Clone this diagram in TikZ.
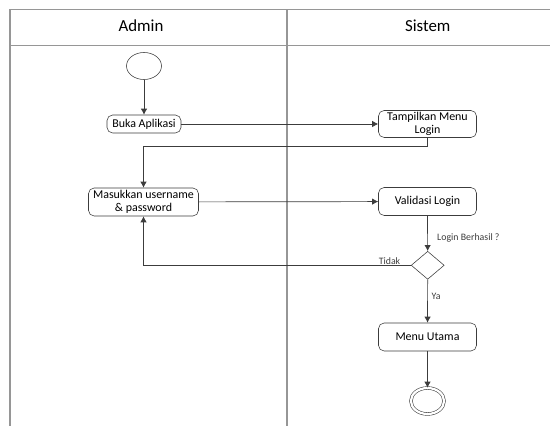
\documentclass[tikz,border=0pt]{standalone}
\usepackage{fontspec}
\setmainfont{Carlito}
\usepackage{tikz}
\usetikzlibrary{arrows.meta,positioning,shapes.geometric,calc}
\definecolor{laneGray}{RGB}{150,150,150}
\definecolor{flowGray}{RGB}{60,60,60}

\tikzset{
  act/.style={draw=flowGray,rounded corners=4pt,fill=white,align=center,
    minimum height=7mm,minimum width=24.5mm,inner sep=1pt,font=\fontsize{8.5}{9.5}\selectfont},
  flow/.style={-{Latex[length=1.5mm,width=1.6mm]},flowGray,line width=0.5pt},
  lbl/.style={font=\fontsize{7}{8}\selectfont,inner sep=0.6pt},
  lane/.style={laneGray,line width=0.9pt}
}

\begin{document}
\begin{tikzpicture}[x=0.25mm,y=-0.25mm,font=\fontsize{8}{9}\selectfont]
\useasboundingbox (0,0) rectangle (550,426);
% swimlanes
\draw[lane] (10,426) -- (10,9.5) -- (550,9.5);
\draw[lane] (10,45.7) -- (550,45.7);
\draw[lane] (287,9.5) -- (287,426);
\node[font=\fontsize{12}{13}\selectfont] (hAdmin) at (141,26) {Admin};
\node[font=\fontsize{12}{13}\selectfont] (hSistem) at (427.7,26) {Sistem};

% nodes
\node[ellipse,draw=flowGray,minimum width=8.75mm,minimum height=6.75mm,inner sep=0] (start) at (144,66) {};
\node[act,minimum width=18.5mm,minimum height=4.5mm,rounded corners=4pt] (buka) at (144,124) {Buka Aplikasi};
\node[act,minimum height=6.75mm] (tampil) at (427.5,124) {Tampilkan Menu\\Login};
\node[act,minimum width=27.5mm] (masuk) at (143.5,202) {Masukkan username\\\& password};
\node[act] (valid) at (427.5,201.5) {Validasi Login};
\node[diamond,draw=flowGray,minimum width=8.25mm,minimum height=7mm,inner sep=0] (dec) at (427.7,265.3) {};
\node[act] (menu) at (427.5,337) {Menu Utama};
\node[ellipse,draw=flowGray,double,double distance=1.6pt,minimum width=8.3mm,minimum height=6.5mm,inner sep=0] (stop) at (427.5,401) {};

% connectors
\draw[flow] (start) -- (buka);
\draw[flow] (buka) -- (tampil);
\draw[flow] (tampil.south) -- ++(0,8.3) -| (masuk.north);
\draw[flow] (masuk) -- (valid);
\draw[flow] (valid) -- node[lbl,right=6pt,pos=0.63] {Login Berhasil ?} (dec);
\draw[flow] (dec.west) -| node[lbl,above,pos=0.04] {Tidak} (masuk.south);
\draw[flow] (dec) -- node[lbl,right=2pt,pos=0.4] {Ya} (menu);
\draw[flow] (menu) -- (stop);
\end{tikzpicture}
\end{document}
